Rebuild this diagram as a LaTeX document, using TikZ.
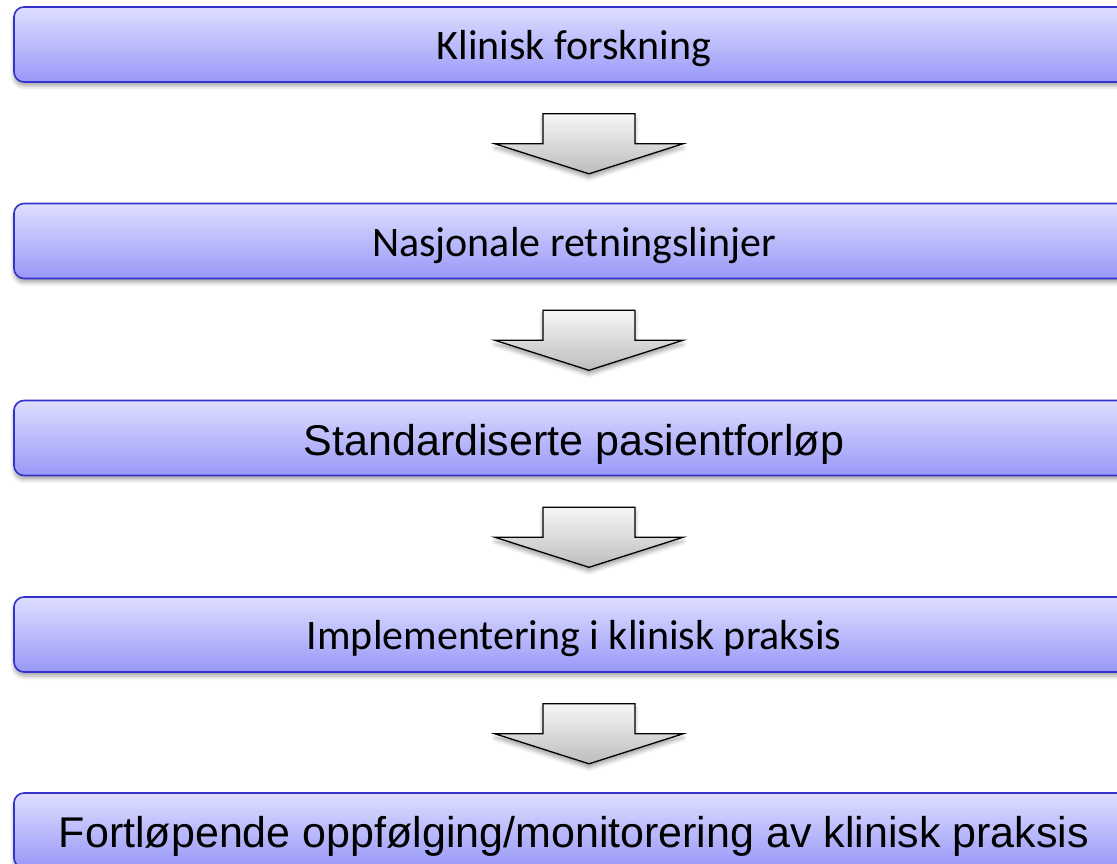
\documentclass[tikz,border=0pt]{standalone}
\usepackage{fontspec}
\newfontfamily\calib{Carlito}
\newfontfamily\arialf{Liberation Sans}
\usetikzlibrary{shadows.blur}
\definecolor{boxtop}{HTML}{DEDEFF}
\definecolor{boxbot}{HTML}{9898F8}
\definecolor{boxline}{HTML}{3333CC}
\definecolor{arrtop}{HTML}{F6F6F6}
\definecolor{arrbot}{HTML}{BDBDBD}
\tikzset{
  stage/.style={draw=boxline, line width=1.6pt, rounded corners=10pt,
    top color=boxtop, bottom color=boxbot,
    minimum width=1120pt, minimum height=75pt, inner sep=0pt,
    text depth=0pt,
    blur shadow={shadow xshift=0pt, shadow yshift=-4pt, shadow blur radius=4pt, shadow opacity=35}},
  calibtext/.style={font=\calib\fontsize{42}{50}\selectfont, text height=30pt},
  ariatext/.style={font=\arialf\fontsize{43}{52}\selectfont, text height=34pt},
  flowarrow/.style={draw=black, line width=1.3pt, line join=miter,
    top color=arrtop, bottom color=arrbot,
    blur shadow={shadow xshift=0pt, shadow yshift=-4pt, shadow blur radius=4pt, shadow opacity=35}}
}
% block arrow hanging below a stage box
\newcommand{\downblock}[1]{%
  \begin{scope}[shift={(#1.south)}]
    \path[flowarrow] (-31,-31) -- (61,-31) -- (61,-61) -- (109,-61)
      -- (15,-91) -- (-79,-61) -- (-31,-61) -- cycle;
  \end{scope}}
\begin{document}
\begin{tikzpicture}[x=1pt,y=1pt]
  \useasboundingbox (0,0) rectangle (1117,-864);
  \node[stage, calibtext] (s1) at (574,-44.5) {Klinisk forskning};
  \node[stage, calibtext] (s2) at (574,-241) {Nasjonale retningslinjer};
  \node[stage, ariatext]  (s3) at (574,-438) {Standardiserte pasientforløp};
  \node[stage, calibtext] (s4) at (574,-634.5) {Implementering i klinisk praksis};
  \node[stage, ariatext]  (s5) at (574,-830.5) {Fortløpende oppfølging/monitorering av klinisk praksis};
  \downblock{s1}
  \downblock{s2}
  \downblock{s3}
  \downblock{s4}
\end{tikzpicture}
\end{document}
